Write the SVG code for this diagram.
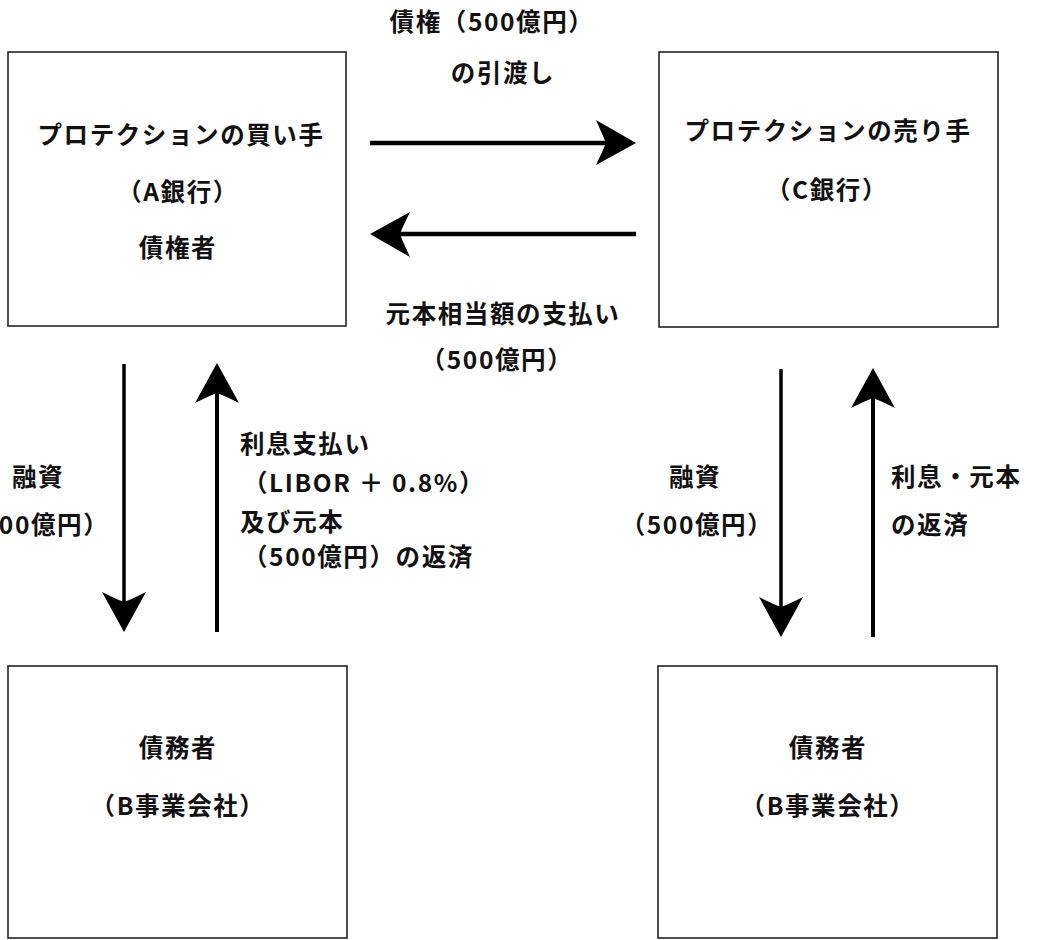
<svg xmlns="http://www.w3.org/2000/svg" width="1048" height="940" viewBox="0 0 1048 940">
<style>
.box{fill:#fff;stroke:#222;stroke-width:1.6}
.t{font-family:"Noto Sans CJK JP","Noto Sans",sans-serif;font-size:24.5px;font-weight:700;fill:#111;letter-spacing:1.6px}
.c{text-anchor:middle}
.ln{stroke:#000;fill:none}
.hd{fill:#000;stroke:none}
</style>
<rect width="1048" height="940" fill="#fff"/>
<g id="nodeA">
<rect class="box" x="8" y="52" width="338" height="274"/>
<text class="t c" x="181" y="144">プロテクションの買い手</text>
<text class="t c" x="178" y="201">（A銀行）</text>
<text class="t c" x="178" y="257">債権者</text>
</g>
<g id="nodeC">
<rect class="box" x="659" y="52" width="339" height="275"/>
<text class="t c" x="828" y="140">プロテクションの売り手</text>
<text class="t c" x="827" y="199">（C銀行）</text>
</g>
<g id="nodeB1">
<rect class="box" x="8" y="666" width="339" height="272"/>
<text class="t c" x="178" y="757">債務者</text>
<text class="t c" x="178" y="815">（B事業会社）</text>
</g>
<g id="nodeB2">
<rect class="box" x="658" y="666" width="339" height="272"/>
<text class="t c" x="828" y="757">債務者</text>
<text class="t c" x="828" y="815">（B事業会社）</text>
</g>
<g id="connectors">
<line class="ln" x1="370" y1="143" x2="606" y2="143" stroke-width="4.5"/>
<path class="hd" d="M636,143 L596,120 Q604,138 606,143 Q604,148 596,165 Z"/>
<line class="ln" x1="400" y1="234" x2="636" y2="234" stroke-width="4.5"/>
<path class="hd" d="M370,234 L410,212 Q402,228 400,234 Q402,240 410,257 Z"/>
<line class="ln" x1="124" y1="364" x2="124" y2="602" stroke-width="3.5"/>
<path class="hd" d="M124,632 L102,592 Q118,600 124,602 Q130,600 146,592 Z"/>
<line class="ln" x1="217" y1="393" x2="217" y2="632" stroke-width="4"/>
<path class="hd" d="M217,363 L195,403 Q211,395 217,393 Q223,395 239,403 Z"/>
<line class="ln" x1="781" y1="369" x2="781" y2="607" stroke-width="3.5"/>
<path class="hd" d="M781,637 L759,597 Q775,605 781,607 Q787,605 803,597 Z"/>
<line class="ln" x1="873" y1="398" x2="873" y2="637" stroke-width="4"/>
<path class="hd" d="M873,368 L851,408 Q867,400 873,398 Q879,400 895,408 Z"/>
</g>
<g id="labels">
<text class="t c" x="492" y="31">債権（500億円）</text>
<text class="t c" x="503" y="82">の引渡し</text>
<text class="t c" x="503" y="323">元本相当額の支払い</text>
<text class="t c" x="497" y="369">（500億円）</text>
<text class="t c" x="38" y="486">融資</text>
<text class="t c" x="33" y="534">（500億円）</text>
<text class="t" x="240" y="453">利息支払い</text>
<text class="t" x="243" y="492">（LIBOR ＋ 0.8%）</text>
<text class="t" x="240" y="531">及び元本</text>
<text class="t" x="243" y="566">（500億円）の返済</text>
<text class="t c" x="695" y="486">融資</text>
<text class="t c" x="697" y="534">（500億円）</text>
<text class="t" x="891" y="486">利息・元本</text>
<text class="t" x="891" y="534">の返済</text>
</g>
</svg>
